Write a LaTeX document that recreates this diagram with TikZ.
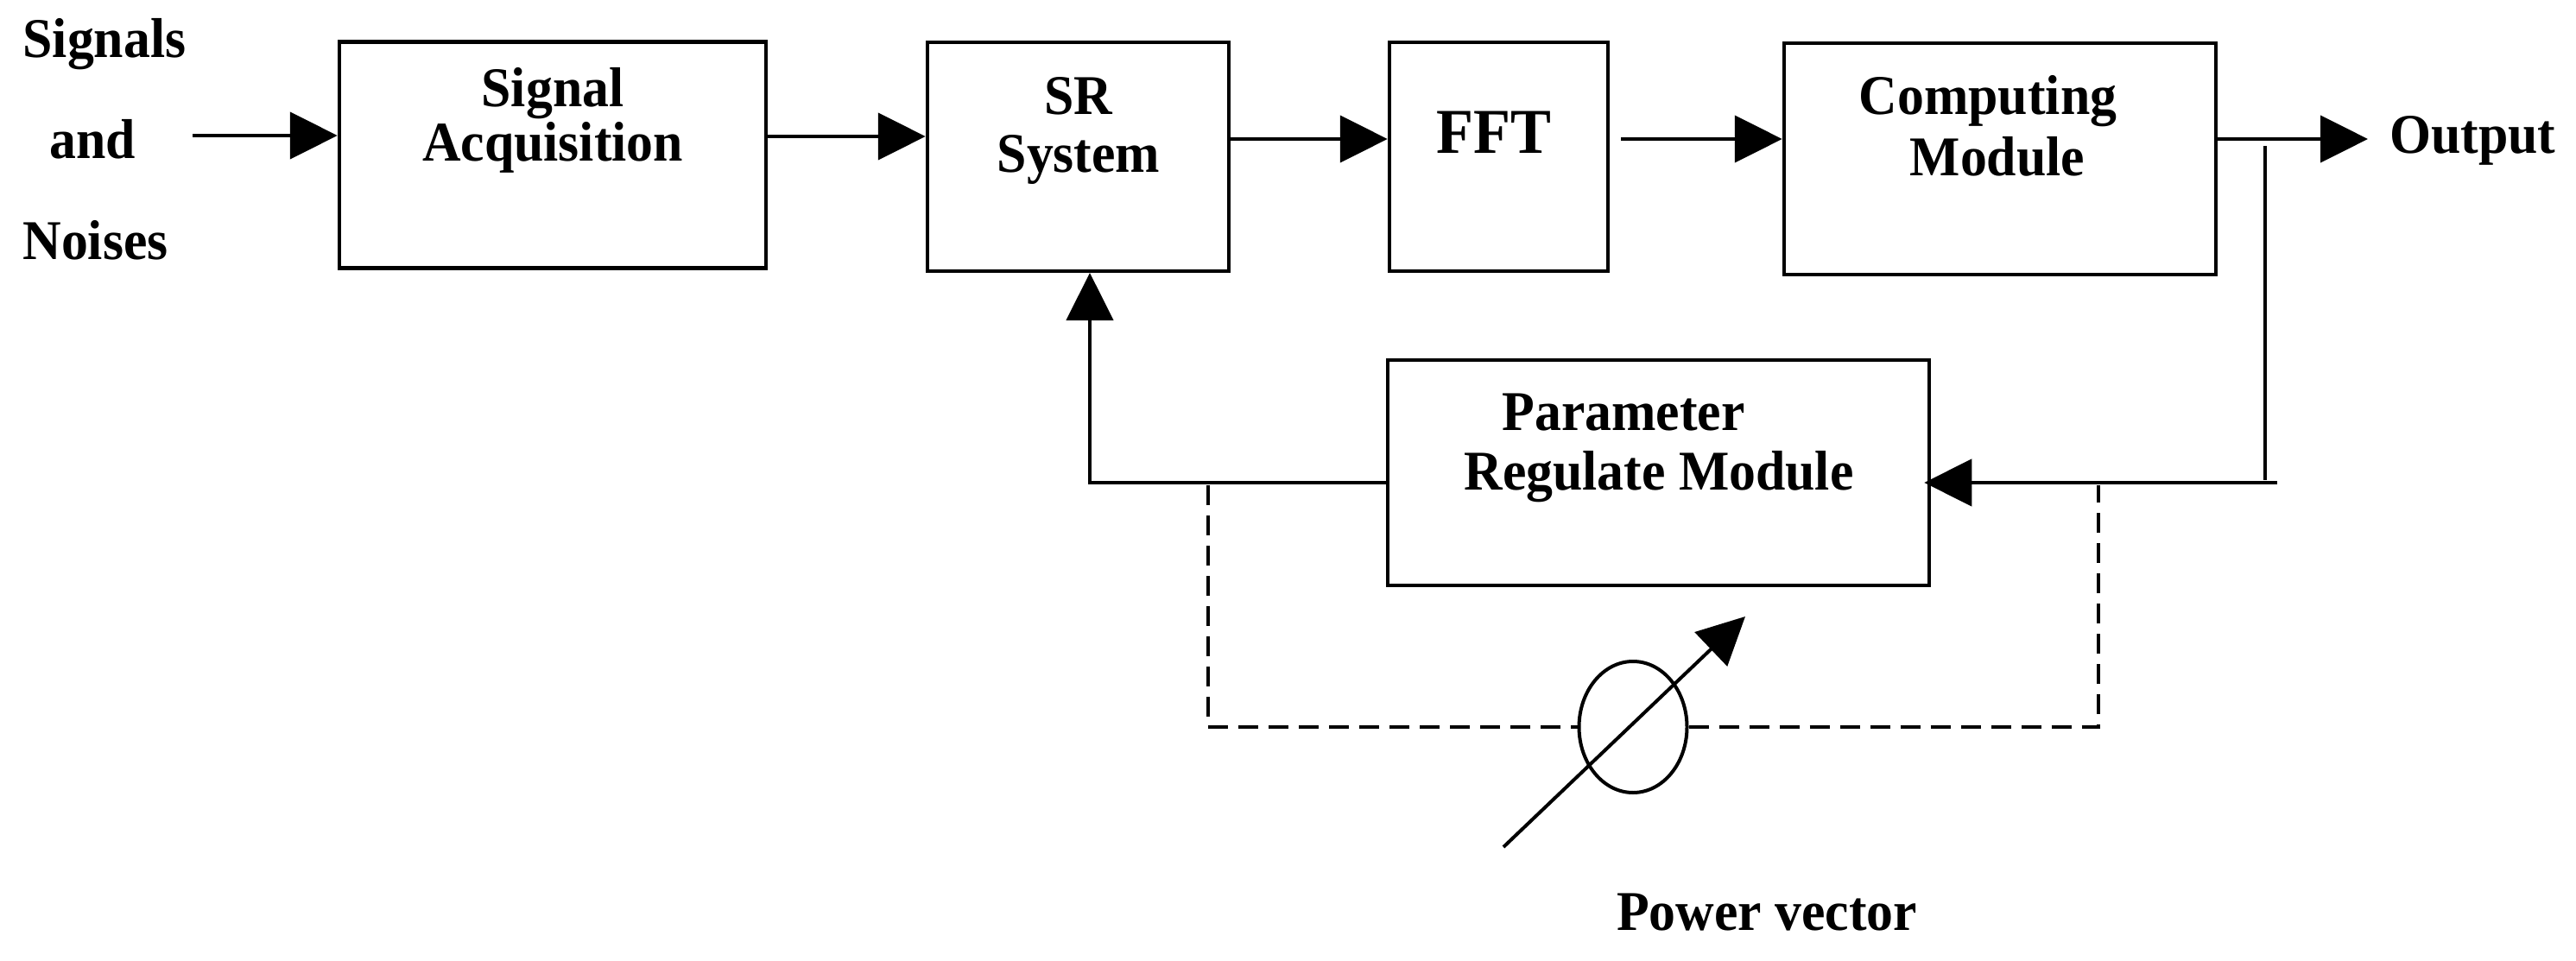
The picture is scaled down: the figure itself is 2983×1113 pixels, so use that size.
\documentclass[tikz,border=0pt]{standalone}
\usepackage{fontspec}
\setmainfont{Liberation Serif}[FakeStretch=0.95]
\usetikzlibrary{arrows.meta,shapes.geometric}
\begin{document}
\begin{tikzpicture}[x=1pt,y=-1pt,
  box/.style={draw,line width=4.5pt,rectangle,inner sep=0pt},
  lbl/.style={anchor=base,inner sep=0pt,font=\fontsize{65}{62}\selectfont\bfseries},
  conn/.style={line width=4.5pt},
  arr/.style={conn,-{Triangle[length=55pt,width=54pt]}},
  dsh/.style={line width=4pt,dash pattern=on 23pt off 12pt},
]
\useasboundingbox (0,0) rectangle (2983,1113);
% boxes
\node[box,minimum width=494pt,minimum height=262pt] (sa) at (640,179.5) {};
\node[box,minimum width=349pt,minimum height=265pt] (sr) at (1248.5,181.5) {};
\node[box,minimum width=253pt,minimum height=265pt] (fft) at (1735.5,181.5) {};
\node[box,minimum width=500pt,minimum height=268pt] (cm) at (2316,184) {};
\node[box,minimum width=627pt,minimum height=261pt] (pr) at (1920.5,547.5) {};
\node[draw,ellipse,line width=4pt,minimum width=125pt,minimum height=152pt,inner sep=0pt] (pv) at (1891,842) {};
% labels
\node[lbl] (l1) at (121,67) {Signals};
\node[lbl] (l2) at (107,183) {and};
\node[lbl] (l3) at (110.5,300) {Noises};
\node[lbl] (sa1) at (640,124) {Signal};
\node[lbl] (sa2) at (640,186) {Acquisition};
\node[lbl] (sr1) at (1249,133) {SR};
\node[lbl] (sr2) at (1249,200) {System};
\node[lbl,font=\fontsize{74}{70}\selectfont\bfseries] (fftl) at (1730,178) {FFT};
\node[lbl] (cm1) at (2302,133) {Computing};
\node[lbl] (cm2) at (2313,203) {Module};
\node[lbl,anchor=base west] (outl) at (2767,177) {Output};
\node[lbl] (pr1) at (1880,498) {Parameter};
\node[lbl] (pr2) at (1921,567) {Regulate Module};
\node[lbl] (pvl) at (2046,1077) {Power vector};
% coordinates
\coordinate (in) at (223,157);
\coordinate (f1) at (1877,161);
\coordinate (outp) at (2742,161);
\coordinate (t1) at (2623,169);
\coordinate (t2) at (2623,556);
\coordinate (t3) at (2637,559);
\coordinate (srin) at (1262,316);
\coordinate (d1) at (1399,562);
\coordinate (d2) at (2430,562);
\coordinate (a1) at (1741,981);
\coordinate (a2) at (2021,714);
% main flow
\draw[arr] (in) -- (sa.west |- in);
\draw[arr] (sa.east |- 0,158) -- (sr.west |- 0,158);
\draw[arr] (sr.east |- 0,161) -- (fft.west |- 0,161);
\draw[arr] (f1) -- (cm.west |- f1);
\draw[arr] (cm.east |- outp) -- (outp);
% feedback
\draw[conn] (t1) -- (t2);
\draw[arr] (t3) -- ([xshift=-8pt]pr.east |- t3);
\draw[arr] (pr.west |- t3) -| (srin);
% dashed loop
\draw[dsh] (d1) |- (pv.west);
\draw[dsh] (pv.east) -| (d2);
\draw[arr,line width=4pt] (a1) -- (a2);
\end{tikzpicture}
\end{document}
